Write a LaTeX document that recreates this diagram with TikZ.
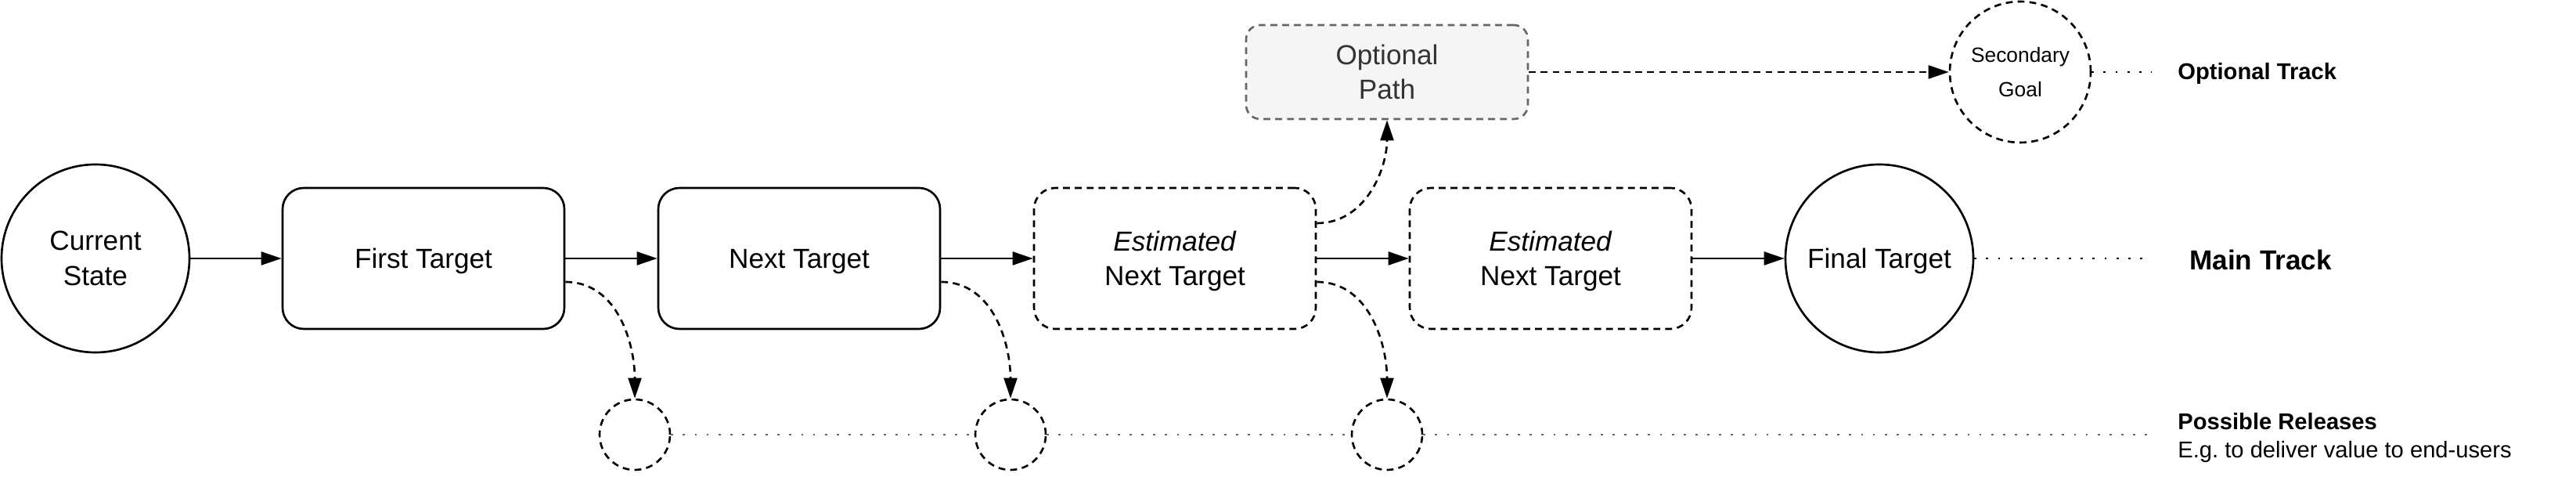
\documentclass[tikz,border=0pt]{standalone}
\usepackage{fontspec}
\setmainfont{Liberation Sans}
\usepackage{tikz}
\usetikzlibrary{arrows.meta}

\definecolor{optfill}{HTML}{F5F5F5}
\definecolor{optline}{HTML}{666666}
\definecolor{opttext}{HTML}{333333}
\definecolor{dotgray}{HTML}{666666}

\begin{document}
\begin{tikzpicture}[>={Triangle[length=7.4pt,width=4.8pt]}, line width=0.75pt,
    font=\fontsize{10}{12.6}\selectfont,
    dashy/.style={dash pattern=on 2.5pt off 1.8pt},
    dotty/.style={dash pattern=on 0.8pt off 3.5pt},
    target/.style={draw, rounded corners=0.27cm, minimum width=3.6cm, minimum height=1.8cm, align=center, inner sep=0pt},
    state/.style={draw, circle, minimum size=2.4cm, align=center, inner sep=0pt},
    nodepth/.style={text depth=0pt},
    release/.style={draw, circle, dashy, minimum size=0.9cm, inner sep=0pt},
    tracklabel/.style={anchor=west, inner sep=0pt}]
      \useasboundingbox (0,0) rectangle (32.91,6.18);

      \node[state] (cur) at (1.22,2.88) {Current\\State};
      \node[target, nodepth] (first) at (5.41,2.88) {First Target};
      \node[target, nodepth] (next) at (10.21,2.88) {Next Target};
      \node[target, nodepth, dashy] (est1) at (15.01,2.88) {\textit{Estimated}\\Next Target};
      \node[target, nodepth, dashy] (est2) at (19.81,2.88) {\textit{Estimated}\\Next Target};
      \node[state, nodepth] (final) at (24.01,2.88) {Final Target};

      \node[target, dashy, draw=optline, fill=optfill, text=opttext, minimum height=1.2cm, rounded corners=0.18cm] (optpath) at (17.72,5.26) {Optional\\Path};
      \node[state, dashy, minimum size=1.8cm, font=\fontsize{7.5}{12.6}\selectfont] (secgoal) at (25.81,5.26) {Secondary\\Goal};

      \node[release] (rel1) at (8.11,0.63) {};
      \node[release] (rel2) at (12.91,0.63) {};
      \node[release] (rel3) at (17.72,0.63) {};

      \draw[->] (cur) -- (first);
      \draw[->] (first) -- (next);
      \draw[->] (next) -- (est1);
      \draw[->] (est1) -- (est2);
      \draw[->] (est2) -- (final);

      \draw[->, dashy] ([yshift=-3mm]first.east) to[out=0, in=90] (rel1.north);
      \draw[->, dashy] ([yshift=-3mm]next.east) to[out=0, in=90] (rel2.north);
      \draw[->, dashy] ([yshift=-3mm]est1.east) to[out=0, in=90] (rel3.north);
      \draw[->, dashy] ([yshift=4.5mm]est1.east) to[out=0, in=-90] (optpath.south);
      \draw[->, dashy] (optpath) -- (secgoal);

      \coordinate (optend) at (27.48,5.26);
      \coordinate (mainend) at (27.48,2.88);
      \coordinate (relend) at (27.48,0.63);
      \draw[dotty] (secgoal) -- (optend);
      \draw[dotty] (final) -- (mainend);
      \draw[dotty, dotgray] (rel1) -- (rel2);
      \draw[dotty, dotgray] (rel2) -- (rel3);
      \draw[dotty, dotgray] (rel3) -- (relend);

      \node[tracklabel, font=\bfseries\fontsize{8.3}{10}\selectfont] (opttrack) at (27.81,5.24) {Optional Track};
      \node[tracklabel, font=\bfseries\fontsize{10}{12}\selectfont] (maintrack) at (27.96,2.86) {Main Track};
      \node[tracklabel, align=left, font=\fontsize{8.3}{10.3}\selectfont] (releases) at (27.81,0.59) {\textbf{Possible Releases}\\E.g.\ to deliver value to end-users};
    \end{tikzpicture}
\end{document}
